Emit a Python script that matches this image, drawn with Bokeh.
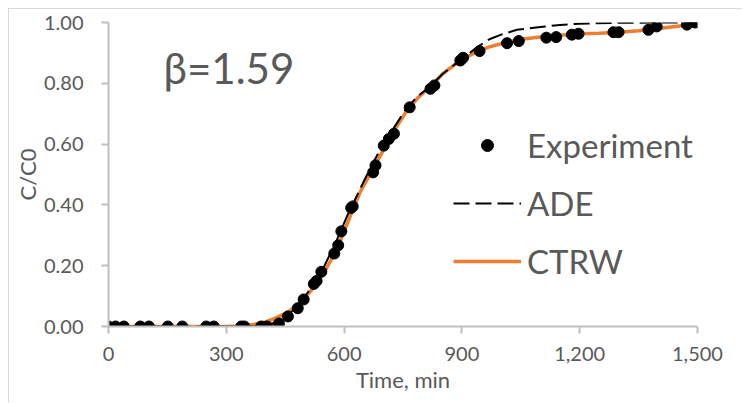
from bokeh.plotting import figure
from bokeh.models import (Legend, LegendItem, Range1d, FixedTicker, Label,
                          CustomJSTickFormatter)
from bokeh.embed import file_html
from bokeh.resources import INLINE

# Experiment data
exp_t = [0, 18, 39, 81, 103, 151, 188, 249, 268, 338, 346, 389, 404, 434, 457,
         482, 497, 523, 530, 542, 575, 585, 593, 618, 622, 674, 680, 701, 714,
         727, 767, 820, 830, 896, 903, 945, 1015, 1045, 1115, 1140, 1180, 1197,
         1286, 1299, 1375, 1396, 1473, 1494]
exp_c = [0, 0, 0, 0, 0, 0, 0, 0, 0, 0, 0, 0, 0, 0.01, 0.033,
         0.06, 0.089, 0.14, 0.15, 0.18, 0.24, 0.267, 0.313, 0.39, 0.395, 0.507,
         0.53, 0.595, 0.617, 0.634, 0.721, 0.782, 0.793, 0.875, 0.884, 0.906,
         0.932, 0.939, 0.95, 0.952, 0.96, 0.963, 0.968, 0.968, 0.976, 0.987,
         0.993, 1.0]

# ADE model
ade_t = [0, 300, 380, 400, 430, 460, 490, 520, 550, 580, 610, 640, 670, 700,
         730, 760, 790, 820, 850, 880, 910, 940, 970, 1000, 1040, 1100, 1150,
         1200, 1300, 1400, 1500]
ade_c = [0, 0, 0.001, 0.004, 0.015, 0.04, 0.08, 0.135, 0.2, 0.28, 0.37, 0.45,
         0.53, 0.6, 0.66, 0.72, 0.76, 0.79, 0.83, 0.86, 0.89, 0.92, 0.945, 0.96,
         0.976, 0.985, 0.992, 0.996, 0.999, 1.0, 1.0]

# CTRW model
ctrw_t = [0, 100, 200, 300, 340, 370, 400, 430, 460, 490, 520, 550, 580, 610,
          640, 670, 700, 730, 760, 790, 820, 850, 880, 910, 940, 970, 1000,
          1050, 1100, 1150, 1200, 1250, 1300, 1350, 1400, 1450, 1500]
ctrw_c = [0, 0, 0, 0, 0.002, 0.007, 0.015, 0.03, 0.05, 0.08, 0.125, 0.18,
          0.25, 0.345, 0.44, 0.51, 0.58, 0.65, 0.71, 0.755, 0.79, 0.83, 0.86,
          0.885, 0.905, 0.92, 0.93, 0.945, 0.952, 0.958, 0.963, 0.965, 0.968,
          0.973, 0.98, 0.988, 0.995]

x_ticks = [0, 300, 600, 900, 1200, 1500]
y_ticks = [0.0, 0.2, 0.4, 0.6, 0.8, 1.0]

FONT = "Lato"
GRAY = "#595959"
AXIS = "#bfbfbf"
ORANGE = "#ED7D31"

# canvas starts at (9, 9) in the window because of margin + border
OX, OY = 9, 9
p = figure(width=734, height=394, output_backend="svg", toolbar_location=None,
           x_range=Range1d(0, 1500), y_range=Range1d(0, 1.0),
           min_border_left=108 - OX, min_border_right=734 - (697 - OX),
           min_border_top=22 - OY, min_border_bottom=394 - (326 - OY),
           styles={"margin-left": "8px", "margin-top": "8px",
                   "border-left": "1px solid #d9d9d9",
                   "border-top": "1px solid #d9d9d9"})
p.xgrid.visible = False
p.ygrid.visible = False
p.outline_line_color = None
p.background_fill_color = "white"
p.border_fill_color = "white"

l_ctrw = p.line(ctrw_t, ctrw_c, line_color=ORANGE, line_width=3.5)
l_ade = p.line(ade_t, ade_c, line_color="black", line_width=2, line_dash="16 6")
s_exp = p.scatter(exp_t, exp_c, size=11, fill_color="black", line_color="black")

for ax in (p.xaxis[0], p.yaxis[0]):
    ax.axis_line_color = AXIS
    ax.axis_line_width = 2
    ax.major_tick_line_color = AXIS
    ax.major_tick_line_width = 2
    ax.major_tick_out = 7
    ax.major_tick_in = 0
    ax.minor_tick_line_color = None
    ax.major_label_text_font = FONT
    ax.major_label_text_font_size = "20px"
    ax.major_label_text_color = GRAY
    ax.axis_label_text_font = FONT
    ax.axis_label_text_font_style = "normal"
    ax.axis_label_text_color = GRAY
    ax.axis_label_text_font_size = "22px"

p.xaxis.ticker = FixedTicker(ticks=x_ticks)
p.yaxis.ticker = FixedTicker(ticks=y_ticks)
p.xaxis.formatter = CustomJSTickFormatter(code="return tick.toLocaleString('en-US');")
p.yaxis.formatter = CustomJSTickFormatter(code="return tick.toFixed(2);")
p.xaxis.major_label_standoff = 13
p.yaxis.major_label_standoff = 18
p.xaxis.axis_label = "Time, min"
p.xaxis.axis_label_standoff = 2
p.yaxis.axis_label = "C/C0"
p.yaxis.axis_label_standoff = 0

p.add_layout(Label(x=163 - 108, y=326 - 92, x_units="screen", y_units="screen",
                   text="β=1.59", text_font=FONT, text_font_size="42px",
                   text_color=GRAY))

legend = Legend(items=[LegendItem(label="Experiment", renderers=[s_exp]),
                       LegendItem(label="ADE", renderers=[l_ade]),
                       LegendItem(label="CTRW", renderers=[l_ctrw])],
                location=(345, 36), glyph_width=68, glyph_height=30,
                label_height=58, label_standoff=6, spacing=0, padding=0,
                margin=0, border_line_color=None, background_fill_alpha=0,
                label_text_font=FONT, label_text_font_size="33px",
                label_text_color=GRAY)
p.add_layout(legend)

open("out.html", "w").write(file_html(p, INLINE))
